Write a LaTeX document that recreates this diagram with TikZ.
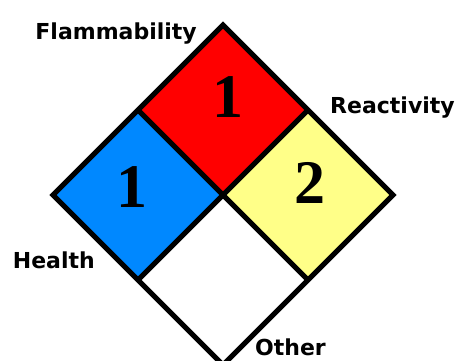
\documentclass[tikz,border=0pt]{standalone}
\usepackage{fontspec}
\setmainfont{Liberation Serif}
\newfontfamily\labfont{DejaVu Sans}
\usetikzlibrary{
    positioning,
    calc
}
\definecolor{nfpared}{RGB}{255,0,0}
\definecolor{nfpablue}{RGB}{0,136,255}
\definecolor{nfpayellow}{RGB}{255,255,136}
\tikzset{
    quad/.style={
        draw=black,
        line width=5pt,
        line join=miter
    },
    numlab/.style={
        font=\fontsize{62}{62}\selectfont\bfseries,
        inner sep=0pt
    },
    lab/.style={
        font=\labfont\bfseries\fontsize{22}{22}\selectfont,
        inner sep=0pt
    }
}

\begin{document}
\begin{tikzpicture}[x=1pt, y=-1pt]

\useasboundingbox (0,0) rectangle (464,360);
\clip (0,0) rectangle (464,360);

% corners of the diamond
\coordinate (c) at (223,195);
\coordinate (t) at (223,25);
\coordinate (l) at (53,195);
\coordinate (r) at (393,195);
\coordinate (b) at (223,365);
\coordinate (tl) at ($(t)!0.5!(l)$);
\coordinate (tr) at ($(t)!0.5!(r)$);
\coordinate (bl) at ($(b)!0.5!(l)$);
\coordinate (br) at ($(b)!0.5!(r)$);

\fill[nfpared] (t) -- (tr) -- (c) -- (tl) -- cycle;
\fill[nfpablue] (tl) -- (c) -- (bl) -- (l) -- cycle;
\fill[nfpayellow] (tr) -- (r) -- (br) -- (c) -- cycle;

\draw[quad] (t) -- (r) -- (b) -- (l) -- cycle;
\draw[quad] (tl) -- (br);
\draw[quad] (tr) -- (bl);

% ratings
\node[numlab] (flamnum) at ([xshift=5pt, yshift=13pt]$(t)!0.5!(c)$) {1};
\node[numlab] (healthnum) at ([xshift=-6pt, yshift=8pt]$(l)!0.5!(c)$) {1};
\node[numlab] (reactnum) at ([xshift=2pt, yshift=12pt]$(r)!0.5!(c)$) {2};

% labels
\node[lab, left=26pt of t, yshift=-9pt] (flam) {Flammability};
\node[lab, right=22pt of tr, yshift=2pt] (react) {Reactivity};
\node[lab, left=43pt of bl, yshift=20pt] (health) {Health};
\node[lab, right=32pt of b, yshift=18pt] (other) {Other};

\end{tikzpicture}
\end{document}
